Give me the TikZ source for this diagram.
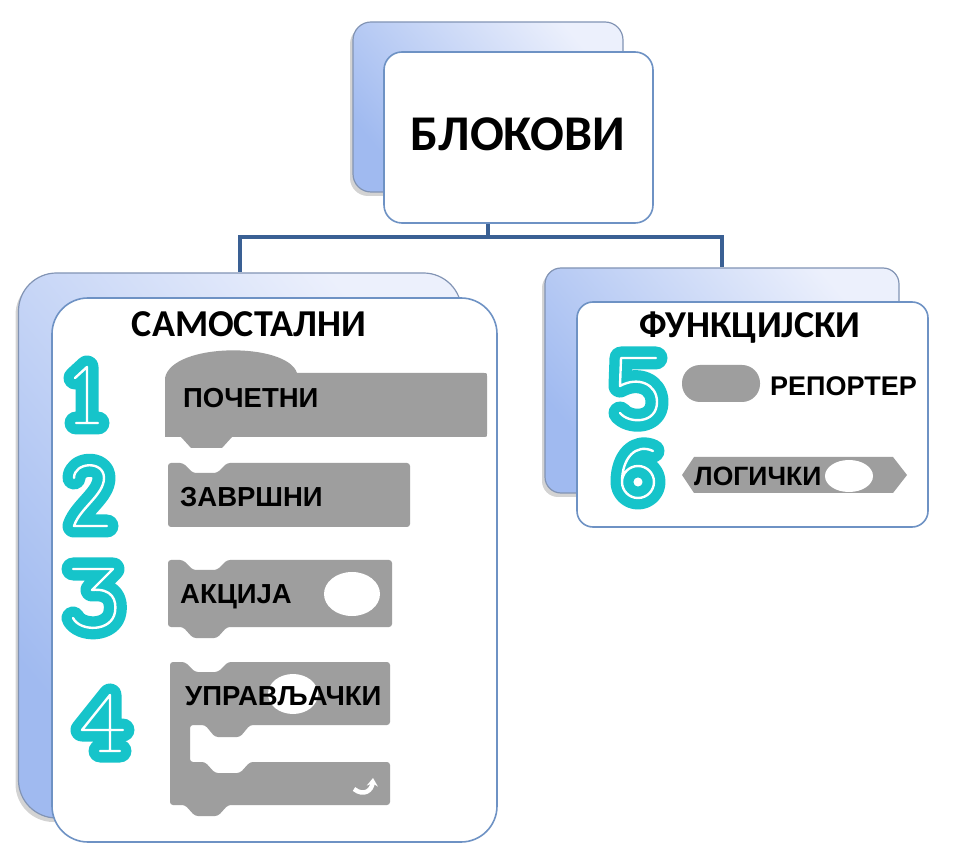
\documentclass[tikz,border=0pt]{standalone}
\usepackage{fontspec}
\setmainfont{Carlito}
\newfontfamily\arialb{Liberation Sans}
\usetikzlibrary{shadows,arrows.meta}
\definecolor{conncol}{RGB}{58,96,148}
\definecolor{backL}{RGB}{160,186,240}
\definecolor{backR}{RGB}{236,240,252}
\definecolor{backline}{RGB}{130,148,180}
\definecolor{frontline}{RGB}{110,146,196}
\definecolor{blockgray}{RGB}{158,158,158}
\definecolor{numcyan}{RGB}{22,196,202}
\tikzset{
  conn/.style={draw=conncol, line width=4pt},
  backbox/.style={draw=backline, line width=1.2pt, top color=backR, bottom color=backL, shading angle=-50,
    drop shadow={shadow xshift=-3pt, shadow yshift=-4pt, opacity=0.35}},
  frontbox/.style={draw=frontline, line width=1.6pt, fill=white},
  ttl/.style={font=\bfseries, anchor=base, inner sep=0},
  lbl/.style={font=\arialb\bfseries\fontsize{27.5}{32}\selectfont, anchor=base west, inner sep=0},
  blk/.style={fill=blockgray, rounded corners=3pt},
  numout/.style={draw=numcyan, line width=23pt, line cap=round, line join=round},
  numin/.style={draw=white, line width=2.4pt, line cap=round, line join=round},
}
\newcommand\mydigit[1]{\draw[numout] #1; \draw[numin] #1;}
\begin{document}
\begin{tikzpicture}[x=1pt,y=-1pt]
\useasboundingbox (0,0) rectangle (962,858);
% back boxes (nodes)
\node[backbox, rounded corners=18pt, minimum width=270pt, minimum height=170pt] (topback) at (488,107) {};
\node[backbox, rounded corners=38pt, minimum width=443pt, minimum height=545pt] (leftback) at (240,545.5) {};
\node[backbox, rounded corners=16pt, minimum width=354pt, minimum height=225pt] (rightback) at (722,380.5) {};
% connectors
\coordinate (hub) at (topback.center |- 0,237);
\draw[conn] (topback.south) -- (hub);
\draw[conn] (hub) -| (leftback.north);
\draw[conn] (hub) -| (rightback.north);
% front boxes
\node[frontbox, rounded corners=18pt, minimum width=269pt, minimum height=171pt] (topfront) at (518.5,137.5) {};
\node[frontbox, rounded corners=36pt, minimum width=445pt, minimum height=544pt] (leftfront) at (274.5,570) {};
\node[frontbox, rounded corners=16pt, minimum width=351pt, minimum height=225pt] (rightfront) at (752.5,414.5) {};
% titles
\node[ttl, font=\bfseries\fontsize{50}{56}\selectfont] (t0) at (518,151) {БЛОКОВИ};
\node[ttl, font=\bfseries\fontsize{38}{44}\selectfont] (tl) at (249,337) {САМОСТАЛНИ};
\node[ttl, font=\bfseries\fontsize{38}{44}\selectfont] (tr) at (750,338) {ФУНКЦИЈСКИ};
% block 1 (hat)
\fill[blockgray] (165,437) -- (165,378) .. controls (172,342) and (287,342) .. (297,373) -- (484,373)
  .. controls (487,373) .. (487,376) -- (487,434) .. controls (487,437) .. (484,437)
  -- (232,437) -- (222,448) -- (191,448) -- (181,437) -- cycle;
% block 2
\fill[blk] (168,463) -- (183,463) -- (193,473) -- (217,473) -- (227,463) -- (410,463) -- (410,527) -- (168,527) -- cycle;
% block 3
\fill[blk] (168,560) -- (183,560) -- (193,570) -- (217,570) -- (227,560) -- (392,560) -- (392,627)
  -- (227,627) -- (217,638) -- (193,638) -- (183,627) -- (168,627) -- cycle;
\fill[white] (352,594) ellipse [x radius=28, y radius=22];
% block 4 (C block)
\fill[blk] (170,662) -- (185,662) -- (195,672) -- (218,672) -- (228,662) -- (390,662) -- (390,725)
  -- (250,725) -- (240,737) -- (215,737) -- (205,725) -- (190,725) -- (190,762)
  -- (205,762) -- (215,773) -- (240,773) -- (250,762) -- (390,762) -- (390,805)
  -- (228,805) -- (218,816) -- (195,816) -- (185,805) -- (170,805) -- cycle;
\fill[white] (293,694) ellipse [x radius=25, y radius=20];
\draw[white, line width=4.5pt, -{Stealth[length=8pt,width=11pt]}] (354,789) .. controls (364,797) and (372,790) .. (373,778);
% block 5 (reporter)
\fill[blockgray, rounded corners=18pt] (682,365) rectangle (760,402);
% block 6 (boolean)
\fill[blockgray] (682,475) -- (694,457) -- (893,457) -- (907,475) -- (893,493) -- (694,493) -- cycle;
\fill[white] (849,476) ellipse [x radius=24, y radius=16];
% labels
\node[lbl] (l1) at (183,408) {ПОЧЕТНИ};
\node[lbl] (l2) at (180,507) {ЗАВРШНИ};
\node[lbl] (l3) at (180,603) {АКЦИЈА};
\node[lbl] (l4) at (185,705) {УПРАВЉАЧКИ};
\node[lbl, font=\arialb\bfseries\fontsize{27}{32}\selectfont] (l5) at (770,396) {РЕПОРТЕР};
\node[lbl, font=\arialb\bfseries\fontsize{26.5}{32}\selectfont] (l6) at (694,486) {ЛОГИЧКИ};
% digits
\mydigit{(75,378) -- (87,367) -- (87,422) (76,423) -- (98,423)}
\mydigit{(74,478) .. controls (74,462) and (104,460) .. (104,478) .. controls (104,495) and (80,508) .. (74,526) -- (107,526)}
\mydigit{(73,569) -- (113,569) -- (92,590) .. controls (112,588) and (117,600) .. (115,612) .. controls (112,632) and (80,632) .. (73,618)}
\mydigit{(110,750) -- (110,695) -- (82,730) -- (123,730) (100,751) -- (120,751)}
\mydigit{(656,358) -- (621,358) -- (620,386) .. controls (638,376) and (657,384) .. (657,402) .. controls (657,424) and (629,424) .. (620,413)}
\mydigit{(653,451) .. controls (636,443) and (622,458) .. (622,482) (638,482) circle [radius=16]}
\end{tikzpicture}
\end{document}
